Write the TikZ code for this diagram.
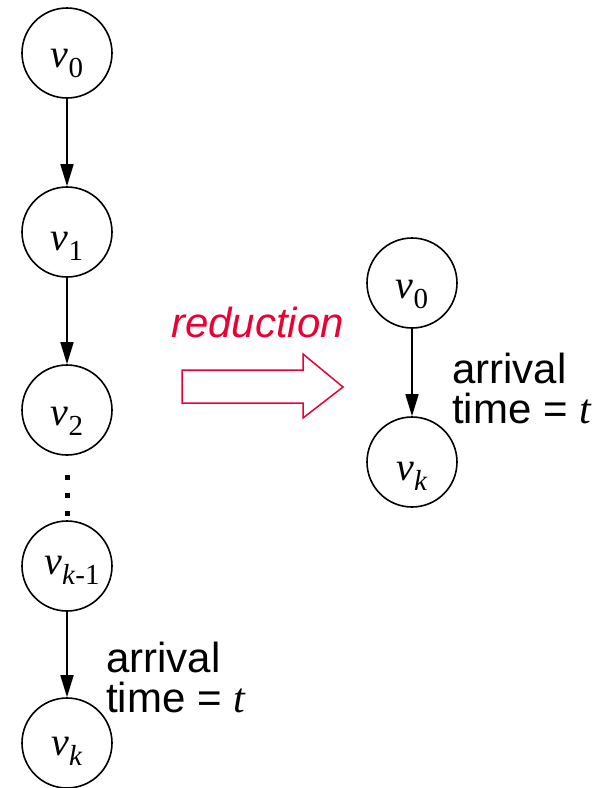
\documentclass[tikz,border=0pt]{standalone}
\usepackage{fontspec}
\setmainfont{Liberation Sans}
\newfontfamily\tms{Liberation Serif}
\usetikzlibrary{arrows.meta}
\definecolor{redarrow}{RGB}{236,0,52}
% vertex label: italic v with a lowered subscript
\newcommand\vlab[1]{{\fontsize{40}{40}\selectfont\tms\itshape v}\raisebox{-10pt}{\fontsize{29}{29}\selectfont\tms #1}}
\newcommand\kk{\textit{k}}
\tikzset{
  vert/.style={circle,draw,line width=1.6pt,minimum size=90pt,inner sep=0pt},
  vtext/.style={anchor=base,inner sep=0pt},
  edge/.style={line width=1.6pt,-{Triangle[length=22pt,width=13pt]}},
  note/.style={anchor=base west,inner sep=0pt,align=left,font=\fontsize{42}{40}\selectfont},
}
\begin{document}
\begin{tikzpicture}[x=1pt,y=-1pt]
\useasboundingbox (0,0) rectangle (600,788);
% left chain
\node[vert] (a0) at (67,53) {};
\node[vert] (a1) at (67,232) {};
\node[vert] (a2) at (67,410) {};
\node[vert] (ak1) at (67,566) {};
\node[vert] (ak) at (67,743) {};
\node[vtext] (a0t) at (67,67) {\vlab{0}};
\node[vtext] (a1t) at (67,250) {\vlab{1}};
\node[vtext] (a2t) at (67,425) {\vlab{2}};
\node[vtext] (ak1t) at (72,574) {\vlab{\kk-1}};
\node[vtext] (akt) at (67,755) {\vlab{\kk}};
\draw[edge] (a0) -- (a1);
\draw[edge] (a1) -- (a2);
\draw[edge] (ak1) -- (ak);
% ellipsis between v2 and v(k-1)
\foreach \yy in {477,495,513}
  \fill (64.5,\yy-2.5) rectangle (69.5,\yy+2.5);
% the base anchor of a two-line note sits on its last line
\node[note] (lnote) at (106,712) {arrival\\time = {\tms\itshape t}};
% reduction arrow
\node[anchor=base west,inner sep=0pt,text=redarrow,font=\fontsize{42}{42}\selectfont\itshape] (red) at (171,337) {reduction};
\draw[redarrow,line width=1.5pt,line join=miter]
  (182,370) -- (303,370) -- (303,354) -- (343,387) -- (303,418) -- (303,403) -- (182,403) -- cycle;
% reduced graph
\node[vert] (b0) at (412,283) {};
\node[vert] (bk) at (412,462) {};
\node[vtext] (b0t) at (412,298) {\vlab{0}};
\node[vtext] (bkt) at (412,480) {\vlab{\kk}};
\draw[edge] (b0) -- (bk);
\node[note] (rnote) at (452,423) {arrival\\time = {\tms\itshape t}};
\end{tikzpicture}
\end{document}
